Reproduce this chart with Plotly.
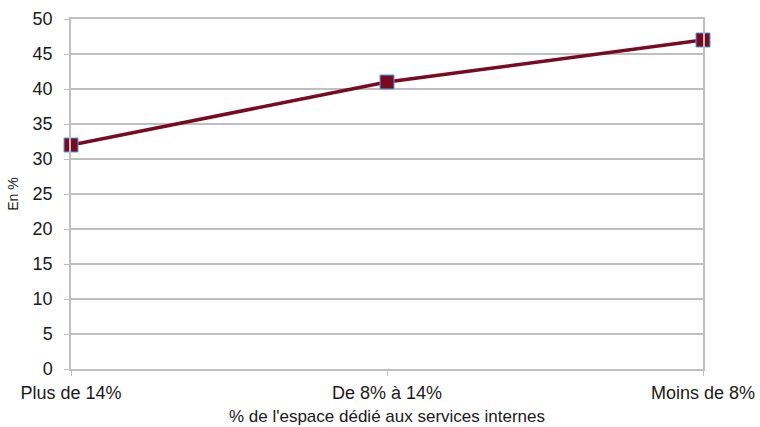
import plotly.graph_objects as go

categories = ["Plus de 14%", "De 8% à 14%", "Moins de 8%"]
values = [32, 41, 47]
y_ticks = [0, 5, 10, 15, 20, 25, 30, 35, 40, 45, 50]

fig = go.Figure()
fig.add_trace(go.Scatter(
    x=list(range(len(categories))), y=values, mode="lines+markers",
    line=dict(color="#7a0a22", width=3.5),
    marker=dict(symbol="square", size=14, color="#7a0a22",
                line=dict(color="#4da3e6", width=1)),
    cliponaxis=False, showlegend=False,
))

grid = "#bfbfbf"
fig.update_layout(
    width=760, height=427,
    margin=dict(l=71, r=57, t=19, b=58, autoexpand=False),
    paper_bgcolor="white", plot_bgcolor="white",
    font=dict(family="Liberation Sans, Arial, sans-serif", size=18, color="#1a1a1a"),
    xaxis=dict(
        range=[0, 2], tickmode="array", tickvals=list(range(len(categories))),
        ticktext=categories, showgrid=False, zeroline=False, automargin=False,
        showline=True, linecolor=grid, linewidth=1.5, mirror=True,
        ticks="outside", ticklen=5, tickcolor=grid, ticklabelstandoff=2,
        title=dict(text="% de l'espace dédié aux services internes",
                   font=dict(size=17), standoff=8),
    ),
    yaxis=dict(
        range=[0, 50], tickmode="array", tickvals=y_ticks, automargin=False,
        showgrid=True, gridcolor=grid, gridwidth=1.5, zeroline=False,
        showline=True, linecolor=grid, linewidth=1.5, mirror=True,
        ticks="outside", ticklen=5, tickcolor=grid, ticklabelstandoff=8,
        title=dict(text="En %", font=dict(size=14), standoff=11),
    ),
)

fig.write_html("out.html", config={"displayModeBar": False},
               post_script="document.body.style.margin='0';")
